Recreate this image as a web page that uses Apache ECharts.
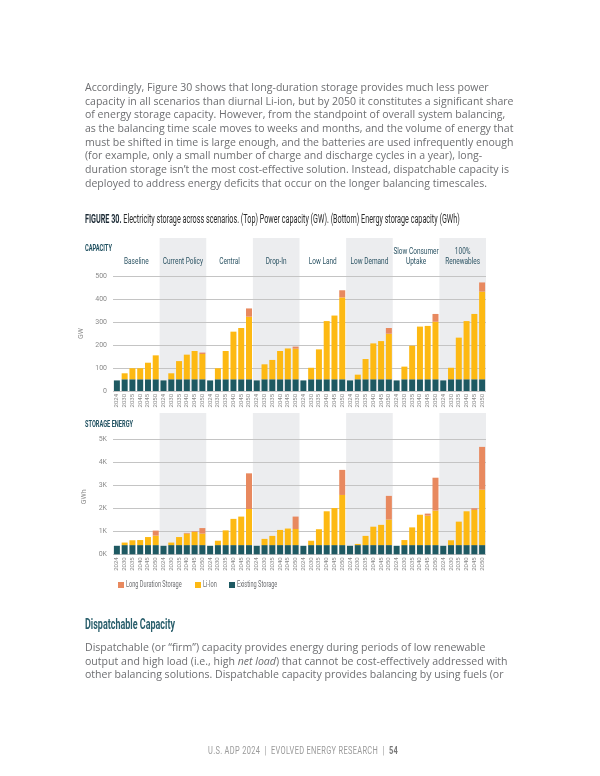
<!DOCTYPE html>
<html>
<head>
<meta charset="utf-8">
<script src="https://cdn.jsdelivr.net/npm/echarts@6/dist/echarts.min.js"></script>
<style>
  html, body { margin:0; padding:0; background:#fff; }
  #page { position:relative; width:600px; height:776px; overflow:hidden; }
  #chart { position:absolute; left:0; top:0; width:600px; height:776px; }
  .txt { position:absolute; white-space:nowrap; font-family:"Open Sans", sans-serif; color:#6d6e71; z-index:2; }
  .line { height:13.7px; line-height:13.7px; }
  .cond { font-family:"Roboto", sans-serif; transform-origin:left center; line-height:1; }
</style>
</head>
<body>
<div id="page">
  <div id="chart"></div>
  <div class="txt para" id="p1" style="left:85px; top:81px;">
    <div class="line">Accordingly, Figure 30 shows that long-duration storage provides much less power</div>
    <div class="line">capacity in all scenarios than diurnal Li-ion, but by 2050 it constitutes a significant share</div>
    <div class="line">of energy storage capacity. However, from the standpoint of overall system balancing,</div>
    <div class="line">as the balancing time scale moves to weeks and months, and the volume of energy that</div>
    <div class="line">must be shifted in time is large enough, and the batteries are used infrequently enough</div>
    <div class="line">(for example, only a small number of charge and discharge cycles in a year), long-</div>
    <div class="line">duration storage isn’t the most cost-effective solution. Instead, dispatchable capacity is</div>
    <div class="line">deployed to address energy deficits that occur on the longer balancing timescales.</div>
  </div>
  <div class="txt cond fit" data-w="375" style="left:85px; top:213px; font-size:12.5px; color:#2a2a2a;"><b style="color:#1b2a35">FIGURE 30.</b> Electricity storage across scenarios. (Top) Power capacity (GW). (Bottom) Energy storage capacity (GWh)</div>
  <div class="txt cond fit" data-w="27" style="left:85px; top:243px; font-size:9.5px; font-weight:bold; color:#1f5060;">CAPACITY</div>
  <div class="txt cond fit" data-w="48" style="left:85px; top:419px; font-size:9.5px; font-weight:bold; color:#1f5060;">STORAGE ENERGY</div>
  <div class="txt cond fit" data-w="90" style="left:85px; top:617px; font-size:15px; font-weight:bold; color:#2a5f6c;">Dispatchable Capacity</div>
  <div class="txt para" id="p2" style="left:85px; top:641px;">
    <div class="line">Dispatchable (or “firm”) capacity provides energy during periods of low renewable</div>
    <div class="line">output and high load (i.e., high <i>net load</i>) that cannot be cost-effectively addressed with</div>
    <div class="line">other balancing solutions. Dispatchable capacity provides balancing by using fuels (or</div>
  </div>
  <div class="txt cond fit" data-w="190" style="left:208px; top:745px; font-size:11.5px; color:#9a9a9a; letter-spacing:0.5px;">U.S. ADP 2024&nbsp;&nbsp;|&nbsp;&nbsp;EVOLVED ENERGY RESEARCH&nbsp;&nbsp;|&nbsp;&nbsp;<b style="color:#777">54</b></div>
</div>
<script>
// ---------- DATA ----------
const scenarios = ['Baseline', 'Current Policy', 'Central', 'Drop-In', 'Low Land', 'Low Demand', 'Slow Consumer\nUptake', '100%\nRenewables'];
const years = ['2024', '2030', '2035', '2040', '2045', '2050'];
const seriesNames = ['Long Duration Storage', 'Li-Ion', 'Existing Storage'];

// Power capacity (GW), 6 years per scenario in scenario order
const capExisting = [
  46, 51, 51, 51, 51, 51,
  46, 51, 51, 51, 51, 51,
  46, 51, 51, 51, 51, 51,
  46, 51, 51, 51, 51, 51,
  46, 51, 51, 51, 51, 51,
  46, 51, 51, 51, 51, 51,
  46, 51, 51, 51, 51, 51,
  46, 51, 51, 51, 51, 51
];
const capLiIon = [
  0, 26, 48, 48, 72, 104,
  0, 26, 79, 107, 123, 110,
  0, 48, 123, 207, 223, 272,
  0, 65, 84, 123, 134, 133,
  0, 50, 130, 253, 277, 356,
  0, 20, 88, 156, 166, 198,
  0, 55, 146, 229, 232, 250,
  0, 50, 181, 253, 284, 381
];
const capLongDur = [
  0, 0, 0, 0, 0, 0,
  0, 0, 0, 0, 0, 6,
  0, 0, 0, 0, 0, 36,
  0, 0, 0, 0, 0, 9,
  0, 0, 0, 0, 0, 31,
  0, 0, 0, 0, 0, 25,
  0, 0, 0, 0, 0, 34,
  0, 0, 0, 0, 0, 40
];

// Energy storage capacity (GWh)
const engExisting = [
  370, 400, 400, 400, 400, 400,
  370, 400, 400, 400, 400, 400,
  370, 400, 400, 400, 400, 400,
  370, 400, 400, 400, 400, 400,
  370, 400, 400, 400, 400, 400,
  370, 400, 400, 400, 400, 400,
  370, 400, 400, 400, 400, 400,
  370, 400, 400, 400, 400, 400
];
const engLiIon = [
  0, 110, 210, 220, 350, 410,
  0, 110, 350, 500, 570, 500,
  0, 190, 640, 1140, 1240, 1570,
  0, 270, 400, 660, 720, 700,
  0, 190, 690, 1470, 1610, 2180,
  0, 50, 400, 800, 880, 1110,
  0, 220, 770, 1320, 1280, 1500,
  0, 210, 1020, 1470, 1530, 2410
];
const engLongDur = [
  0, 0, 0, 0, 0, 220,
  0, 0, 0, 30, 30, 240,
  0, 0, 0, 0, 0, 1550,
  0, 0, 0, 0, 0, 540,
  0, 0, 0, 0, 0, 1090,
  0, 0, 0, 0, 0, 1030,
  0, 0, 0, 0, 90, 1430,
  0, 0, 0, 0, 70, 1860
];

const capTicks = [0, 100, 200, 300, 400, 500];
const engTickLabels = ['0K', '1K', '2K', '3K', '4K', '5K'];

// ---------- TEXT FITTING ----------
function fitPara(id, refIndex, targetWidth) {
  const el = document.getElementById(id);
  el.style.fontSize = '12px';
  const line = el.querySelectorAll('.line')[refIndex];
  const html = line.innerHTML;
  line.innerHTML = '<span style="white-space:nowrap">' + html + '</span>';
  const w = line.firstChild.getBoundingClientRect().width;
  line.innerHTML = html;
  el.style.fontSize = (12 * targetWidth / w).toFixed(2) + 'px';
}
fitPara('p1', 1, 429);
fitPara('p2', 1, 423);
document.querySelectorAll('.fit').forEach(el => {
  const w = el.getBoundingClientRect().width;
  el.style.transform = 'scaleX(' + (parseFloat(el.dataset.w) / w).toFixed(3) + ')';
});

// ---------- CHART ----------
const cats = [];
scenarios.forEach((s, i) => years.forEach(y => cats.push(i + '|' + y)));

const COL_LD = '#E8895F';
const COL_LI = '#FDB913';
const COL_EX = '#1E5962';
const colors = [COL_LD, COL_LI, COL_EX];
const condFont = 'Roboto, sans-serif';

const G = { left: 113, width: 373 };
const bandAxisCommon = {
  type: 'category', data: scenarios, boundaryGap: true,
  axisLine: { show: false }, axisTick: { show: false }, axisLabel: { show: false },
  splitLine: { show: false },
  splitArea: { show: true, interval: 0, areaStyle: { color: ['rgba(255,255,255,0)', '#ECEDEF'] } },
  z: -1
};
const yearAxisCommon = {
  type: 'category', data: cats, boundaryGap: true,
  axisLine: { show: false }, axisTick: { show: false },
  axisLabel: { interval: 0, rotate: 90, fontSize: 6, color: '#8a8a8a', margin: 3, fontFamily: condFont,
    formatter: v => v.split('|')[1] }
};
const valAxisCommon = {
  type: 'value', min: 0,
  axisLine: { show: false }, axisTick: { show: false },
  splitLine: { lineStyle: { color: '#c4c4c4', width: 1 } },
  nameLocation: 'middle', nameRotate: 90, nameGap: 24,
  nameTextStyle: { fontSize: 7, color: '#8a8a8a', fontFamily: condFont }
};

function barSeries(name, data, xi, yi, stack, color) {
  return {
    name, type: 'bar', data, xAxisIndex: xi, yAxisIndex: yi, stack,
    barWidth: 6, itemStyle: { color }, emphasis: { disabled: true }
  };
}

const chart = echarts.init(document.getElementById('chart'), null, { renderer: 'canvas' });
chart.setOption({
  animation: false,
  backgroundColor: 'rgba(0,0,0,0)',
  grid: [
    { left: G.left, width: G.width, top: 238, height: 153 },
    { left: G.left, width: G.width, top: 276, height: 115 },
    { left: G.left, width: G.width, top: 413, height: 141 },
    { left: G.left, width: G.width, top: 439.3, height: 115 }
  ],
  xAxis: [
    Object.assign({}, bandAxisCommon, { gridIndex: 0, position: 'top' }),
    Object.assign({}, yearAxisCommon, { gridIndex: 1 }),
    Object.assign({}, bandAxisCommon, { gridIndex: 2, position: 'top' }),
    Object.assign({}, yearAxisCommon, { gridIndex: 3 })
  ],
  yAxis: [
    { type: 'value', gridIndex: 0, show: false },
    Object.assign({}, valAxisCommon, { gridIndex: 1, max: capTicks[capTicks.length - 1], interval: capTicks[1] - capTicks[0], name: 'GW',
      axisLabel: { fontSize: 7, color: '#8a8a8a', margin: 6, fontFamily: condFont } }),
    { type: 'value', gridIndex: 2, show: false },
    Object.assign({}, valAxisCommon, { gridIndex: 3, max: 5000, interval: 1000, name: 'GWh',
      axisLabel: { fontSize: 7, color: '#8a8a8a', margin: 6, fontFamily: condFont,
        formatter: v => engTickLabels[Math.round(v / 1000)] } })
  ],
  series: [
    barSeries(seriesNames[2], capExisting, 1, 1, 'cap', COL_EX),
    barSeries(seriesNames[1], capLiIon, 1, 1, 'cap', COL_LI),
    barSeries(seriesNames[0], capLongDur, 1, 1, 'cap', COL_LD),
    barSeries(seriesNames[2], engExisting, 3, 3, 'eng', COL_EX),
    barSeries(seriesNames[1], engLiIon, 3, 3, 'eng', COL_LI),
    barSeries(seriesNames[0], engLongDur, 3, 3, 'eng', COL_LD)
  ]
});

// Scenario header labels, centred on each scenario band via the axis scale
const headerY = 267;
const headerGraphics = scenarios.map(s => ({
  type: 'text',
  x: chart.convertToPixel({ xAxisIndex: 0 }, s),
  y: headerY,
  scaleX: 0.72,
  silent: true,
  style: {
    text: s, fill: '#2b5363', font: '9px Roboto, sans-serif',
    align: 'center', verticalAlign: 'bottom', lineHeight: 10.5
  }
}));

// Condensed legend (icon + narrow text)
const legendX = [118, 195, 229];
const legendY = 585;
const legendGraphics = [];
seriesNames.forEach((n, i) => {
  legendGraphics.push({
    type: 'rect', silent: true, x: legendX[i], y: legendY - 3,
    shape: { x: 0, y: 0, width: 6, height: 6 }, style: { fill: colors[i] }
  });
  legendGraphics.push({
    type: 'text', silent: true, x: legendX[i] + 8, y: legendY, scaleX: 0.66,
    style: { text: n, fill: '#6d6e71', font: '8.5px Roboto, sans-serif', align: 'left', verticalAlign: 'middle' }
  });
});

chart.setOption({ graphic: headerGraphics.concat(legendGraphics) });
</script>
</body>
</html>
